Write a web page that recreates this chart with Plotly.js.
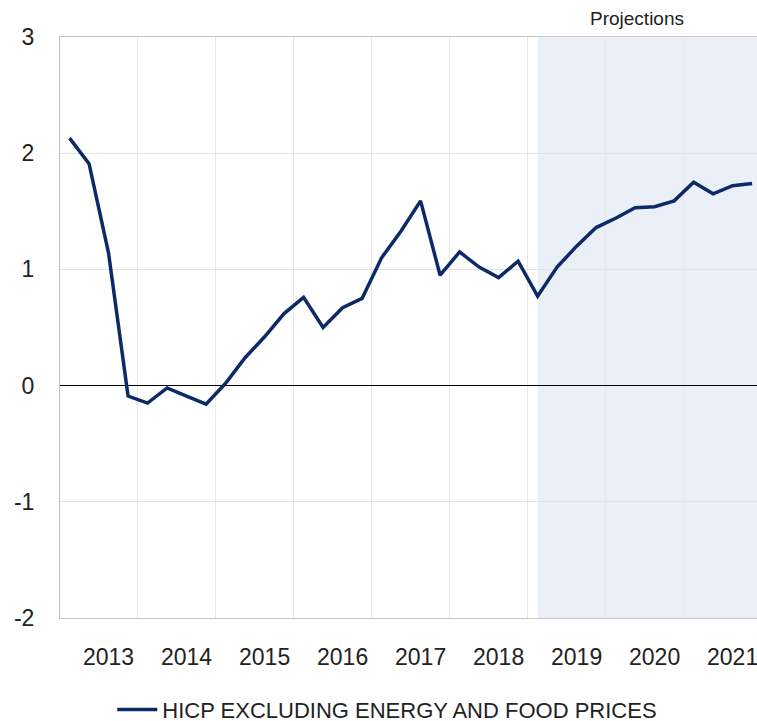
<!DOCTYPE html>
<html>
<head>
<meta charset="utf-8">
<script src="https://cdn.plot.ly/plotly-3.0.1.min.js"></script>
<style>html,body{margin:0;padding:0;background:#fff;}#chart{width:757px;height:721px;}</style>
</head>
<body>
<div id="chart"></div>
<script>
// Quarterly periods (2013Q1 .. 2021Q4)
const years = ["2013","2014","2015","2016","2017","2018","2019","2020","2021"];
const quarters = ["Q1","Q2","Q3","Q4"];
const periods = [];
years.forEach(y => quarters.forEach(q => periods.push(y + q)));

// HICP excluding energy and food prices, annual % change
const hicpx = [
  2.13, 1.91, 1.14, -0.09,
  -0.15, -0.02, -0.09, -0.16,
  0.02, 0.24, 0.42, 0.62,
  0.76, 0.50, 0.67, 0.75,
  1.10, 1.33, 1.59, 0.95,
  1.15, 1.02, 0.93, 1.07,
  0.77, 1.02, 1.20, 1.36,
  1.44, 1.53, 1.54, 1.59,
  1.75, 1.65, 1.72, 1.74
];
const yTickVals = [-2, -1, 0, 1, 2, 3];
const yTickText = ["-2", "-1", "0", "1", "2", "3"];
const seriesName = "HICP EXCLUDING ENERGY AND FOOD PRICES";
const projectionStart = "2019Q1";
const projectionLabel = "Projections";

const xIdx = periods.map((p, i) => i);
const labelVals = years.map(y => periods.indexOf(y + "Q3"));
const boundaryVals = years.slice(1).map(y => periods.indexOf(y + "Q1") - 0.5);
const projIdx = periods.indexOf(projectionStart);
const xRange = [-0.49, periods.length - 1 + 0.25];

const font = {family: "Liberation Sans, Arial, sans-serif", color: "#222", size: 23};

const trace = {
  x: xIdx, y: hicpx, type: "scatter", mode: "lines", name: seriesName,
  line: {color: "#0b2a67", width: 3.5}
};

const layout = {
  width: 757, height: 721,
  margin: {l: 60, r: 0, t: 37, b: 103, autoexpand: false},
  paper_bgcolor: "#fff", plot_bgcolor: "#fff",
  font: font,
  showlegend: true,
  legend: {orientation: "h", x: 0.075, xanchor: "left", y: -0.158, yanchor: "middle",
           font: {family: font.family, size: 22, color: "#222"}, itemwidth: 40},
  xaxis: {
    range: xRange, tickmode: "array", tickvals: labelVals, ticktext: years,
    showgrid: false, zeroline: false, ticks: "", ticklabelstandoff: 18,
    ticklabeloverflow: "allow",
    showline: true, linecolor: "#c6c6c6", linewidth: 1, mirror: true,
    tickfont: {size: 23},
    minor: {tickmode: "array", tickvals: boundaryVals, showgrid: true, gridcolor: "#e8e8e8", gridwidth: 1, ticks: ""}
  },
  yaxis: {
    range: [-2, 3], tickmode: "array", tickvals: yTickVals, ticktext: yTickText,
    showgrid: true, gridcolor: "#e3e3e3", gridwidth: 1,
    zeroline: true, zerolinecolor: "#000", zerolinewidth: 1,
    showline: true, linecolor: "#c0c0c0", linewidth: 1,
    ticks: "", ticklabelstandoff: 20, tickfont: {size: 23}
  },
  shapes: [{
    type: "rect", xref: "x", yref: "paper", x0: projIdx, x1: xRange[1], y0: 0, y1: 1,
    fillcolor: "#ebf0f8", line: {width: 0}, layer: "below"
  }],
  annotations: [{
    text: projectionLabel, xref: "x", yref: "paper", x: 29.1, y: 1.0, yanchor: "bottom", yshift: 6,
    showarrow: false, font: {family: font.family, size: 19, color: "#222"}
  }]
};

Plotly.newPlot("chart", [trace], layout, {displayModeBar: false, staticPlot: true});
</script>
</body>
</html>
